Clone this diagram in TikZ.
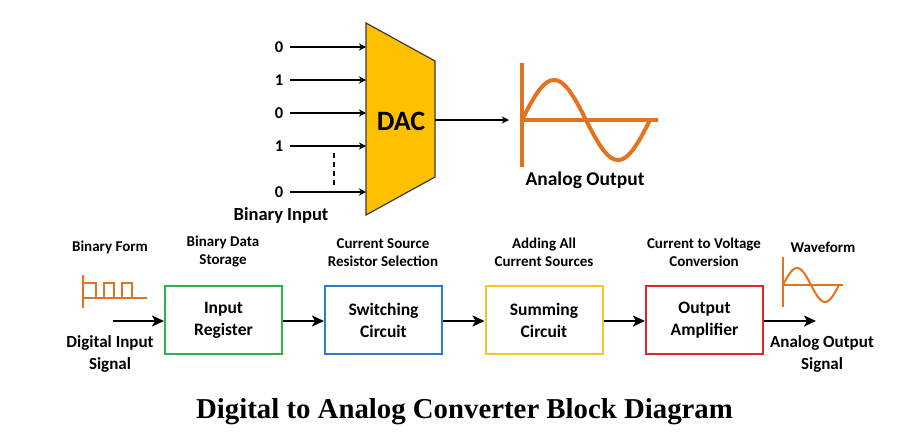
\documentclass[tikz,border=0pt]{standalone}
\usepackage{fontspec}
\setmainfont{Carlito}
\newfontfamily\titlefont{Liberation Serif}
\usetikzlibrary{arrows.meta}
\definecolor{dacfill}{HTML}{FFC000}
\definecolor{dacline}{HTML}{3A3A3A}
\definecolor{orng}{HTML}{E4731F}
\definecolor{gbox}{HTML}{2DB34A}
\definecolor{bbox}{HTML}{2E7DC2}
\definecolor{ybox}{HTML}{F7C623}
\definecolor{rbox}{HTML}{E3242B}
\begin{document}
\begin{tikzpicture}[x=1pt,y=-1pt,
  lbl/.style={font=\fontsize{15}{18}\selectfont\bfseries, align=center, inner sep=0pt},
  biglbl/.style={font=\fontsize{17}{22}\selectfont\bfseries, align=center, inner sep=0pt},
  digit/.style={font=\fontsize{16.5}{18}\selectfont\bfseries, inner sep=0pt},
  blk/.style={draw, line width=2pt, minimum width=117pt, minimum height=68pt, align=center,
    font=\fontsize{17.5}{22}\selectfont\bfseries},
  flow/.style={line width=2.5pt, -{Stealth[length=12pt,width=11pt,inset=3pt]}},
  bit/.style={line width=1.4pt, -{Stealth[length=7pt,width=7pt,inset=2pt]}},
  wavebig/.style={draw=orng, line width=4pt},
  wavesmall/.style={draw=orng, line width=2pt}]
\useasboundingbox (0,0) rectangle (915,445);
\fill[white] (0,0) rectangle (915,445);

% ---------- DAC ----------
\draw[fill=dacfill, draw=dacline, line width=1.2pt]
  (366,23) -- (435,61) -- (435,177) -- (366,215) -- cycle;
\node[font=\fontsize{28}{30}\selectfont\bfseries] (dac) at (401,121) {DAC};

\node[digit] (b1) at (279,47) {0};
\node[digit] (b2) at (279,80) {1};
\node[digit] (b3) at (279,113) {0};
\node[digit] (b4) at (279,146) {1};
\node[digit] (b5) at (279,192) {0};
\coordinate (i1) at (366,47);
\coordinate (i2) at (366,80);
\coordinate (i3) at (366,113);
\coordinate (i4) at (366,146);
\coordinate (i5) at (366,192);
\foreach \k in {1,...,5}{\draw[bit] ([xshift=7pt]b\k.east) -- (i\k);}
\coordinate (d1) at (334,153);
\coordinate (d2) at (334,185);
\draw[line width=1.4pt, dash pattern=on 5pt off 4pt] (d1) -- (d2);
\node[font=\fontsize{18.5}{20}\selectfont\bfseries] (binin) at (281,215) {Binary Input};

\coordinate (dacout) at (435,120);
\coordinate (wavein) at (509,120);
\draw[bit] (dacout) -- (wavein);

% big sine
\coordinate (ax1) at (522,63);
\coordinate (ax2) at (522,167);
\coordinate (ax3) at (658,120);
\coordinate (ax0) at (522,120);
\draw[wavebig] (ax1) -- (ax2);
\draw[wavebig] (ax0) -- (ax3);
\draw[wavebig, line join=round] plot[domain=0:128, samples=80, smooth] ({522+\x},{120-40*sin(\x*2.8125)});
\node[font=\fontsize{19.5}{22}\selectfont\bfseries] (aout) at (585,180) {Analog Output};

% ---------- block row ----------
\node[blk, draw=gbox] (reg) at (223.5,320) {Input\\Register};
\node[blk, draw=bbox] (sw) at (383.5,320) {Switching\\Circuit};
\node[blk, draw=ybox] (sum) at (544,320) {Summing\\Circuit};
\node[blk, draw=rbox] (amp) at (704.5,320) {Output\\Amplifier};

\coordinate (inp) at (113,321);
\coordinate (outp) at (816,321);
\draw[flow] (inp) -- (reg.west |- inp);
\draw[flow] (reg.east |- inp) -- (sw.west |- inp);
\draw[flow] (sw.east |- inp) -- (sum.west |- inp);
\draw[flow] (sum.east |- inp) -- (amp.west |- inp);
\draw[flow] (amp.east |- inp) -- (outp);

\node[lbl] (l0) at (110,247) {Binary Form};
\node[lbl] (l1) at (223,252) {Binary Data\\Storage};
\node[lbl] (l2) at (383,253) {Current Source\\Resistor Selection};
\node[lbl] (l3) at (544,252.5) {Adding All\\Current Sources};
\node[lbl] (l4) at (704,252.5) {Current to Voltage\\Conversion};
\node[lbl] (l5) at (823,247) {Waveform};
\node[biglbl] (l6) at (110,354) {Digital Input\\Signal};
\node[biglbl] (l7) at (822,354) {Analog Output\\Signal};

% pulse icon
\draw[wavesmall] (83,275) -- (83,308);
\draw[wavesmall] (83,298) -- (147,298);
\draw[wavesmall, line join=miter] (83,283) -- (95.5,283) -- (95.5,298)
  (103.5,298) -- (103.5,283) -- (113.5,283) -- (113.5,298)
  (121.5,298) -- (121.5,283) -- (131.5,283) -- (131.5,298);

% small sine icon
\draw[wavesmall] (783,257) -- (783,307);
\draw[wavesmall] (783,285) -- (843,285);
\draw[wavesmall] plot[domain=0:56, samples=60, smooth] ({783+\x},{285-17*sin(\x*6.42857)});

% title
\node[font=\titlefont\fontsize{28.8}{30}\selectfont\bfseries, anchor=base] (title) at (464.5,418) {Digital to Analog Converter Block Diagram};
\end{tikzpicture}
\end{document}
